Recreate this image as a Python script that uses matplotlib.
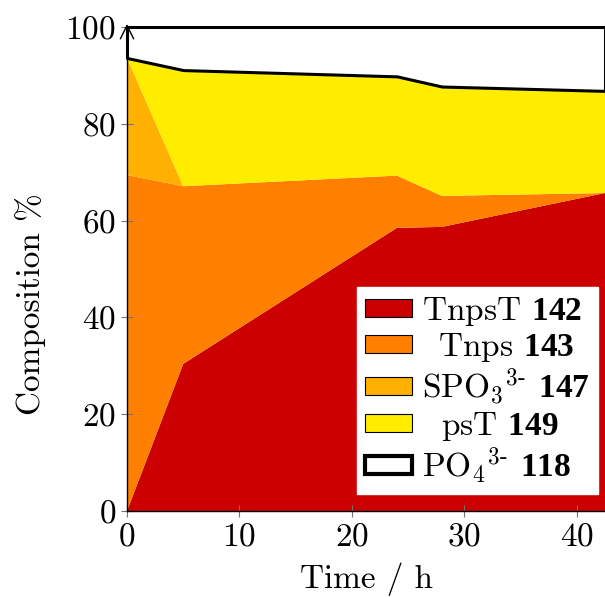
import numpy as np
import matplotlib.pyplot as plt
from matplotlib.patches import Patch

plt.rcParams['font.family'] = 'serif'
plt.rcParams['font.serif'] = ['cmr10']
plt.rcParams['mathtext.fontset'] = 'custom'
plt.rcParams['mathtext.rm'] = 'cmr10'
plt.rcParams['mathtext.it'] = 'cmmi10'
plt.rcParams['mathtext.bf'] = 'Liberation Serif:bold'
plt.rcParams['axes.formatter.use_mathtext'] = True
plt.rcParams['font.size'] = 24

# time points (h)
t = [0, 5, 24, 28, 42.5]
# composition % of each species
tnpst = [0, 30.4, 58.5, 58.7, 65.7]
tnps = [69.4, 36.7, 10.8, 6.4, 0]
spo3 = [24.2, 0, 0, 0, 0]
pst = [0, 24.0, 20.5, 22.6, 21.1]
po4 = [6.4, 8.9, 10.2, 12.3, 13.2]

colors = ['#cc0000', '#ff8000', '#ffb000', '#ffed00']
labels = [r'TnpsT $\mathbf{142}$',
          r'$\hspace{0.55}$Tnps $\mathbf{143}$',
          r'SPO$_3$$^{\text{3-}}$ $\mathbf{147}$',
          r'$\hspace{0.65}$psT $\mathbf{149}$',
          r'PO$_4$$^{\text{3-}}$ $\mathbf{118}$']

fig = plt.figure(figsize=(6.05, 5.97), dpi=100)
ax = fig.add_axes([127/605, 86/597, 478/605, 484/597])

ax.stackplot(t, tnpst, tnps, spo3, pst, colors=colors, linewidth=0)
base = np.array(tnpst) + np.array(tnps) + np.array(spo3) + np.array(pst)
ax.fill_between(t, base, base + np.array(po4), facecolor='white',
                edgecolor='black', linewidth=2.2, clip_on=False, zorder=3)

ax.set_xlim(0, 42.5)
ax.set_ylim(0, 100)
ax.set_xticks([0, 10, 20, 30, 40])
ax.set_yticks([0, 20, 40, 60, 80, 100])
for s in ['top', 'right']:
    ax.spines[s].set_visible(False)
for s in ['left', 'bottom']:
    ax.spines[s].set_linewidth(1.0)
    ax.spines[s].set_zorder(4)
ax.tick_params(direction='inout', length=8, width=0.8, color='0.45', pad=4)
ax.annotate('', xy=(0, 1.012), xytext=(0, 0.97), xycoords='axes fraction',
            arrowprops=dict(arrowstyle='->', lw=1.0, color='black'), zorder=5)

ax.set_xlabel('Time / h', labelpad=8)
ax.set_ylabel('Composition %')
ax.yaxis.set_label_coords(-0.17, 0.428)

handles = [Patch(facecolor=c, edgecolor='black', linewidth=0.8) for c in colors]
handles.append(Patch(facecolor='white', edgecolor='black', linewidth=3))
leg = ax.legend(handles, labels, loc='lower right', bbox_to_anchor=(0.985, 0.035),
                fancybox=False, framealpha=1, edgecolor='white',
                handlelength=1.4, handleheight=0.45, labelspacing=0.08,
                handletextpad=0.3, borderpad=0.25, borderaxespad=0)
leg.set_zorder(6)

fig.savefig('out.png', dpi=100)
